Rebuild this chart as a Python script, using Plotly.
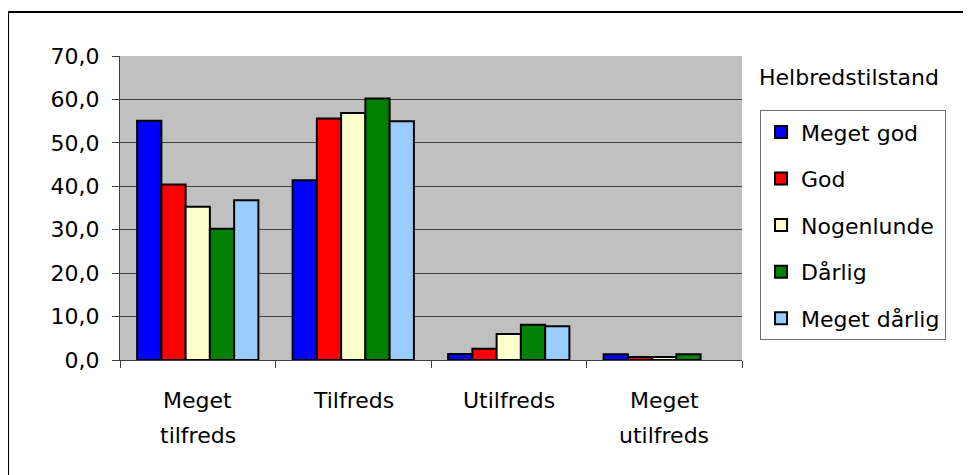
import plotly.graph_objects as go

# Data (pct.)
categories = ["Meget tilfreds", "Tilfreds", "Utilfreds", "Meget utilfreds"]
category_lines = [["Meget", "tilfreds"], ["Tilfreds"], ["Utilfreds"], ["Meget", "utilfreds"]]

series_names = ["Meget god", "God", "Nogenlunde", "Dårlig", "Meget dårlig"]
meget_god = [55.1, 41.4, 1.4, 1.3]
god = [40.4, 55.6, 2.6, 0.7]
nogenlunde = [35.3, 56.9, 6.0, 0.7]
daarlig = [30.2, 60.2, 8.1, 1.3]
meget_daarlig = [36.8, 55.0, 7.8, None]

y_ticks = [0, 10, 20, 30, 40, 50, 60, 70]
legend_title = "Helbredstilstand"

colors = ["#0000FF", "#FF0000", "#FFFFCC", "#008000", "#99CCFF"]
series_values = [meget_god, god, nogenlunde, daarlig, meget_daarlig]

FONT = "DejaVu Sans"
FSIZE = 22

fig = go.Figure()
for i, (name, vals) in enumerate(zip(series_names, series_values)):
    fig.add_trace(
        go.Bar(
            x=categories,
            y=vals,
            name=name,
            legendgroup=name,
            marker=dict(color=colors[i], line=dict(color="black", width=2)),
        )
    )

# category labels as annotations so the line spacing matches
for cat, lines in zip(categories, category_lines):
    for j, line in enumerate(lines):
        fig.add_annotation(
            x=cat, xref="x", y=0, yref="paper",
            yanchor="middle", yshift=-40 - 35 * j,
            text=line, showarrow=False,
            font=dict(family=FONT, size=FSIZE, color="black"),
        )

fig.add_annotation(
    x=1.029, xref="paper", y=0.928, yref="paper",
    xanchor="left", yanchor="middle", xshift=-3,
    text=legend_title, showarrow=False,
    font=dict(family=FONT, size=FSIZE, color="black"),
)

# outer frame (only top and left are visible in the reference)
fig.add_shape(type="line", xref="paper", yref="paper",
              x0=-0.18, x1=1.5, y0=1.145, y1=1.145,
              line=dict(color="black", width=2))
fig.add_shape(type="line", xref="paper", yref="paper",
              x0=-0.18, x1=-0.18, y0=1.145, y1=-0.5,
              line=dict(color="black", width=2))

# the page body adds an 8px offset, so margins are shifted by 8
fig.update_layout(
    width=971,
    height=475,
    margin=dict(l=112, r=237, t=48, b=123),
    paper_bgcolor="white",
    plot_bgcolor="#C0C0C0",
    barmode="group",
    bargap=0.22,
    bargroupgap=0,
    separators=",.",
    font=dict(family=FONT, size=FSIZE, color="black"),
    showlegend=True,
    legend=dict(
        x=1.029, y=0.822, xanchor="left", yanchor="top",
        bordercolor="#707070", borderwidth=1,
        bgcolor="white",
        tracegroupgap=15,
        font=dict(family=FONT, size=FSIZE, color="black"),
        itemwidth=30,
    ),
    xaxis=dict(
        showticklabels=False,
        tickson="boundaries",
        ticks="outside", ticklen=7, tickcolor="#404040",
        showline=True, linecolor="#404040", linewidth=1,
        showgrid=False,
    ),
    yaxis=dict(
        range=[0, 70],
        tickvals=y_ticks,
        tickformat=".1f",
        ticks="outside", ticklen=7, tickcolor="#404040",
        ticklabelstandoff=8,
        showline=True, linecolor="#404040", linewidth=1,
        showgrid=True, gridcolor="#404040", gridwidth=1,
        zeroline=False,
    ),
)

fig.write_html("out.html")
